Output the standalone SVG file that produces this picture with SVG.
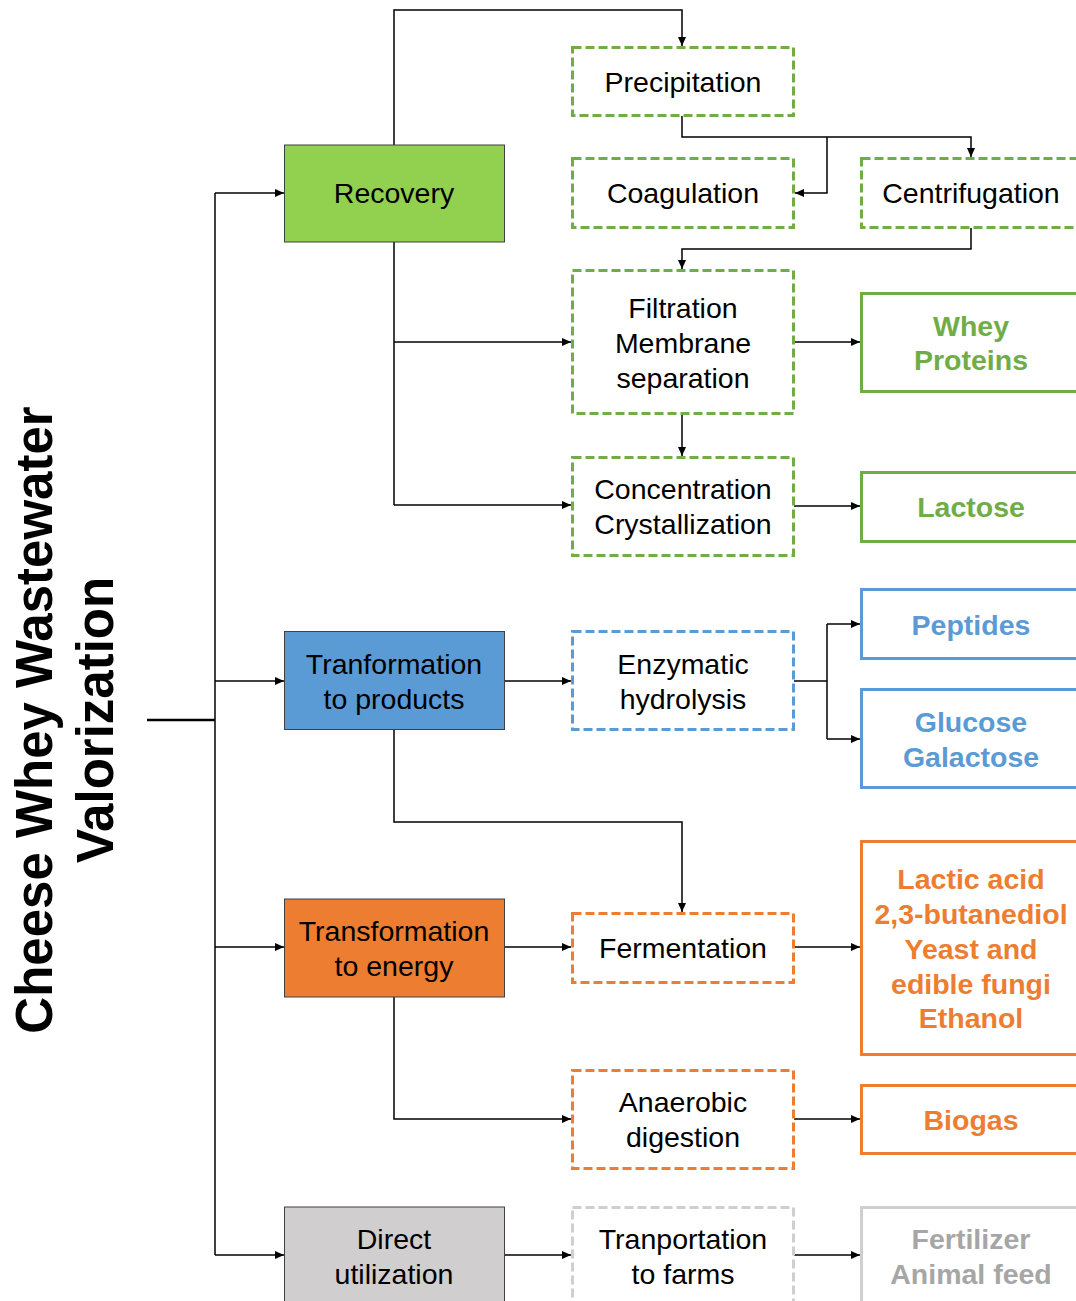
<svg xmlns="http://www.w3.org/2000/svg" width="1076" height="1301" viewBox="0 0 1076 1301">
<defs>
<marker id="arr" markerUnits="userSpaceOnUse" markerWidth="9" markerHeight="8" refX="9" refY="4" orient="auto"><path d="M0,0 L9,4 L0,8 z" fill="#000"/></marker>
<style>
.t{font-family:"Liberation Sans",Arial,sans-serif;font-size:28.5px;text-anchor:middle;fill:#000}
.b{font-family:"Liberation Sans",Arial,sans-serif;font-size:28.5px;font-weight:bold;text-anchor:middle}
.c{fill:none;stroke:#000;stroke-width:1.5}
.d{fill:#fff;stroke-width:3;stroke-dasharray:9 4}
.s{fill:#fff;stroke-width:3}
.m{stroke:#404040;stroke-width:1}
</style>
</defs>
<rect width="1076" height="1301" fill="#fff"/>
<g id="title">
<text transform="translate(52,720) rotate(-90)" font-family="Liberation Sans,Arial,sans-serif" font-weight="bold" font-size="51" text-anchor="middle">Cheese Whey Wastewater</text>
<text transform="translate(113,720) rotate(-90)" font-family="Liberation Sans,Arial,sans-serif" font-weight="bold" font-size="51" text-anchor="middle">Valorization</text>
</g>
<g id="connectors">
<path d="M147,720 H215" fill="none" stroke="#000" stroke-width="2.5"/>
<path class="c" d="M215,193 V1255"/>
<path class="c" d="M215,193 H284" marker-end="url(#arr)"/>
<path class="c" d="M215,681 H284" marker-end="url(#arr)"/>
<path class="c" d="M215,947 H284" marker-end="url(#arr)"/>
<path class="c" d="M215,1255 H284" marker-end="url(#arr)"/>
<path class="c" d="M394,145 V10 H682 V46" marker-end="url(#arr)"/>
<path class="c" d="M682,116 V137 H971 V157" marker-end="url(#arr)"/>
<path class="c" d="M827,137 V193 H795" marker-end="url(#arr)"/>
<path class="c" d="M971,228 V249 H682 V269" marker-end="url(#arr)"/>
<path class="c" d="M394,242 V505"/>
<path class="c" d="M394,342 H571" marker-end="url(#arr)"/>
<path class="c" d="M394,505 H571" marker-end="url(#arr)"/>
<path class="c" d="M794,342 H860" marker-end="url(#arr)"/>
<path class="c" d="M682,414 V456" marker-end="url(#arr)"/>
<path class="c" d="M794,506 H860" marker-end="url(#arr)"/>
<path class="c" d="M505,681 H571" marker-end="url(#arr)"/>
<path class="c" d="M794,681 H827"/>
<path class="c" d="M827,624 V739"/>
<path class="c" d="M827,624 H860" marker-end="url(#arr)"/>
<path class="c" d="M827,739 H860" marker-end="url(#arr)"/>
<path class="c" d="M394,730 V822 H682 V912" marker-end="url(#arr)"/>
<path class="c" d="M505,947 H571" marker-end="url(#arr)"/>
<path class="c" d="M794,947 H860" marker-end="url(#arr)"/>
<path class="c" d="M394,997 V1119 H571" marker-end="url(#arr)"/>
<path class="c" d="M794,1119 H860" marker-end="url(#arr)"/>
<path class="c" d="M505,1255 H571" marker-end="url(#arr)"/>
<path class="c" d="M794,1255 H860" marker-end="url(#arr)"/>
</g>
<g id="recovery"><rect class="m" x="284.5" y="145" width="220" height="97" fill="#92d050"/><text class="t" x="394" y="203">Recovery</text></g>
<g id="tr-products"><rect class="m" x="284.5" y="631.5" width="220" height="98" fill="#5b9bd5"/><text class="t" x="394" y="674">Tranformation</text><text class="t" x="394" y="709">to products</text></g>
<g id="tr-energy"><rect class="m" x="284.5" y="899" width="220" height="98" fill="#ed7d31"/><text class="t" x="394" y="941">Transformation</text><text class="t" x="394" y="976">to energy</text></g>
<g id="direct"><rect class="m" x="284.5" y="1207" width="220" height="110" fill="#d0cece"/><text class="t" x="394" y="1249">Direct</text><text class="t" x="394" y="1284">utilization</text></g>

<g id="precipitation"><rect class="d" stroke="#70ad47" x="572.5" y="47.5" width="221" height="68"/><text class="t" x="683" y="92">Precipitation</text></g>
<g id="coagulation"><rect class="d" stroke="#70ad47" x="572.5" y="158.5" width="221" height="69"/><text class="t" x="683" y="203">Coagulation</text></g>
<g id="centrifugation"><rect class="d" stroke="#70ad47" x="861.5" y="158.5" width="221" height="69"/><text class="t" x="971" y="203">Centrifugation</text></g>
<g id="filtration"><rect class="d" stroke="#70ad47" x="572.5" y="270.5" width="221" height="143"/><text class="t" x="683" y="318">Filtration</text><text class="t" x="683" y="353">Membrane</text><text class="t" x="683" y="388">separation</text></g>
<g id="concentration"><rect class="d" stroke="#70ad47" x="572.5" y="457.5" width="221" height="98"/><text class="t" x="683" y="499">Concentration</text><text class="t" x="683" y="534">Crystallization</text></g>
<g id="enzymatic"><rect class="d" stroke="#5b9bd5" x="572.5" y="631.5" width="221" height="98"/><text class="t" x="683" y="674">Enzymatic</text><text class="t" x="683" y="709">hydrolysis</text></g>
<g id="fermentation"><rect class="d" stroke="#ed7d31" x="572.5" y="913.5" width="221" height="69"/><text class="t" x="683" y="958">Fermentation</text></g>
<g id="anaerobic"><rect class="d" stroke="#ed7d31" x="572.5" y="1070.5" width="221" height="98"/><text class="t" x="683" y="1112">Anaerobic</text><text class="t" x="683" y="1147">digestion</text></g>
<g id="transportation"><rect class="d" stroke="#d0cece" x="572.5" y="1207.5" width="221" height="110"/><text class="t" x="683" y="1249">Tranportation</text><text class="t" x="683" y="1284">to farms</text></g>

<g id="whey-proteins"><rect class="s" stroke="#70ad47" x="861.5" y="293.5" width="221" height="98"/><text class="b" fill="#70ad47" x="971" y="336">Whey</text><text class="b" fill="#70ad47" x="971" y="370">Proteins</text></g>
<g id="lactose"><rect class="s" stroke="#70ad47" x="861.5" y="472.5" width="221" height="69"/><text class="b" fill="#70ad47" x="971" y="517">Lactose</text></g>
<g id="peptides"><rect class="s" stroke="#5b9bd5" x="861.5" y="589.5" width="221" height="69"/><text class="b" fill="#5b9bd5" x="971" y="635">Peptides</text></g>
<g id="glucose"><rect class="s" stroke="#5b9bd5" x="861.5" y="689.5" width="221" height="98"/><text class="b" fill="#5b9bd5" x="971" y="732">Glucose</text><text class="b" fill="#5b9bd5" x="971" y="767">Galactose</text></g>
<g id="lactic"><rect class="s" stroke="#ed7d31" x="861.5" y="841.5" width="221" height="213"/><text class="b" fill="#ed7d31" x="971" y="889">Lactic acid</text><text class="b" fill="#ed7d31" x="971" y="924">2,3-butanediol</text><text class="b" fill="#ed7d31" x="971" y="959">Yeast and</text><text class="b" fill="#ed7d31" x="971" y="994">edible fungi</text><text class="b" fill="#ed7d31" x="971" y="1028">Ethanol</text></g>
<g id="biogas"><rect class="s" stroke="#ed7d31" x="861.5" y="1085.5" width="221" height="68"/><text class="b" fill="#ed7d31" x="971" y="1130">Biogas</text></g>
<g id="fertilizer"><rect class="s" stroke="#d0cece" x="861.5" y="1207.5" width="221" height="110"/><text class="b" fill="#a6a6a6" x="971" y="1249">Fertilizer</text><text class="b" fill="#a6a6a6" x="971" y="1284">Animal feed</text></g>
</svg>
